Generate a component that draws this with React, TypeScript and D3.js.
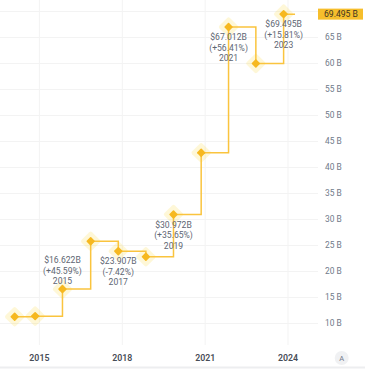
import React, { useEffect, useRef } from "react";
import * as d3 from "d3";

// yearly points (date of the report) and value in billions
const dates = [
  "2014-02-08",
  "2014-11-06",
  "2015-11-02",
  "2016-11-09",
  "2017-11-09",
  "2018-11-09",
  "2019-11-09",
  "2020-11-09",
  "2021-11-06",
  "2022-11-02",
  "2023-11-04",
];
const values = [
  11.3, 11.417, 16.622, 25.823, 23.907, 22.832, 30.972, 42.844, 67.012, 60.008,
  69.495,
];
const lineEndDate = "2024-04-03";

// annotated points
const labelIndex = [2, 4, 6, 8, 10];
const labelChange = ["+45.59%", "-7.42%", "+35.65%", "+56.41%", "+15.81%"];
const labelAbove = [true, false, false, false, false];

const gridTicks = [10, 15, 20, 25, 30, 35, 40, 45, 50, 55, 60, 65, 70];
const yTickLabels = [10, 15, 20, 25, 30, 35, 40, 45, 50, 55, 60, 65];
const xTicks = ["2015", "2018", "2021", "2024"];
const lastValueLabel = "69.495 B";

const W = 365;
const H = 373;
const plotRight = 318;
const plotBottom = 345;
const FONT = "Roboto, 'Noto Sans', sans-serif";

const App = () => {
  const ref = useRef(null);

  useEffect(() => {
    document.body.style.margin = "0";
    const parse = d3.timeParse("%Y-%m-%d");
    const parseYear = d3.timeParse("%Y");

    const x = d3
      .scaleTime()
      .domain([parseYear("2015"), parseYear("2024")])
      .range([39.4, 288]);
    const y = d3.scaleLinear().domain([10, 65]).range([323.5, 37.5]);

    const data = dates.map((d, i) => ({ date: parse(d), value: values[i] }));
    const lineData = [
      ...data,
      { date: parse(lineEndDate), value: values[values.length - 1] },
    ];

    const svg = d3.select(ref.current);
    svg.selectAll("*").remove();
    svg.attr("width", W).attr("height", H).style("display", "block");

    // grid
    const grid = svg.append("g");
    grid
      .selectAll("line.h")
      .data(gridTicks)
      .join("line")
      .attr("x1", 0)
      .attr("x2", plotRight)
      .attr("y1", (d) => y(d))
      .attr("y2", (d) => y(d))
      .attr("stroke", "#F3F3F3")
      .attr("stroke-width", 1);
    grid
      .selectAll("line.v")
      .data(xTicks)
      .join("line")
      .attr("x1", (d) => x(parseYear(d)))
      .attr("x2", (d) => x(parseYear(d)))
      .attr("y1", 0)
      .attr("y2", plotBottom)
      .attr("stroke", "#F3F3F3")
      .attr("stroke-width", 1);

    const diamond = (g, r, rx) =>
      g
        .append("rect")
        .attr("x", -r)
        .attr("y", -r)
        .attr("width", r * 2)
        .attr("height", r * 2)
        .attr("rx", rx)
        .attr("transform", (d) => `translate(${x(d.date)},${y(d.value)}) rotate(45)`);

    // halos
    const halos = svg.append("g").selectAll("g").data(data).join("g");
    diamond(halos, 7.4, 2).attr("fill", "#FCD535").attr("opacity", 0.2);

    // step line
    const line = d3
      .line()
      .x((d) => x(d.date))
      .y((d) => y(d.value))
      .curve(d3.curveStepAfter);
    svg
      .append("path")
      .datum(lineData)
      .attr("d", line)
      .attr("fill", "none")
      .attr("stroke", "#FAC43E")
      .attr("stroke-width", 1.5);

    // markers
    const marks = svg.append("g").selectAll("g").data(data).join("g");
    diamond(marks, 3.2, 0.8).attr("fill", "#F6B81F");

    // annotations
    const fmt = d3.format(".3f");
    const ann = svg
      .append("g")
      .selectAll("text")
      .data(labelIndex)
      .join("text")
      .attr("font-family", FONT)
      .attr("font-size", 8.6)
      .attr("fill", "#5E6673")
      .attr("text-anchor", "middle");
    ann.each(function (idx, i) {
      const d = data[idx];
      const cx = x(d.date);
      const cy = y(d.value);
      const lines = [
        `$${fmt(d.value)}B`,
        `(${labelChange[i]})`,
        d3.timeFormat("%Y")(d.date),
      ];
      const start = labelAbove[i] ? cy - 5 - 10.5 * 2 : cy + 13.3;
      d3.select(this)
        .selectAll("tspan")
        .data(lines)
        .join("tspan")
        .attr("x", cx)
        .attr("y", (t, k) => start + k * 10.5)
        .text((t) => t);
    });

    // y axis labels
    svg
      .append("g")
      .selectAll("text")
      .data(yTickLabels)
      .join("text")
      .attr("x", 325)
      .attr("y", (d) => y(d))
      .attr("dy", "0.35em")
      .attr("font-family", FONT)
      .attr("font-size", 8.4)
      .attr("fill", "#707A8A")
      .text((d) => `${d} B`);

    // x axis labels
    svg
      .append("g")
      .selectAll("text")
      .data(xTicks)
      .join("text")
      .attr("x", (d) => x(parseYear(d)))
      .attr("y", 358)
      .attr("dy", "0.35em")
      .attr("text-anchor", "middle")
      .attr("font-family", FONT)
      .attr("font-size", 8.8)
      .attr("font-weight", 600)
      .attr("fill", "#474D57")
      .text((d) => d);

    // last value tag
    const last = values[values.length - 1];
    svg
      .append("rect")
      .attr("x", 318)
      .attr("y", y(last) - 5.5)
      .attr("width", 45)
      .attr("height", 11)
      .attr("fill", "#F6BE2C");
    svg
      .append("text")
      .attr("x", 324)
      .attr("y", y(last))
      .attr("dy", "0.35em")
      .attr("font-family", FONT)
      .attr("font-size", 8.6)
      .attr("fill", "#3C3421")
      .text(lastValueLabel);

    // auto scale button
    svg
      .append("circle")
      .attr("cx", 341.7)
      .attr("cy", 358)
      .attr("r", 7)
      .attr("fill", "#F0F1F3");
    svg
      .append("text")
      .attr("x", 341.7)
      .attr("y", 358)
      .attr("dy", "0.35em")
      .attr("text-anchor", "middle")
      .attr("font-family", FONT)
      .attr("font-size", 7.5)
      .attr("fill", "#707A8A")
      .text("A");

    // bottom border
    svg
      .append("line")
      .attr("x1", 0)
      .attr("x2", W)
      .attr("y1", 367.5)
      .attr("y2", 367.5)
      .attr("stroke", "#EDEEF0")
      .attr("stroke-width", 2);
  });

  return <svg ref={ref}></svg>;
};

export default App;
